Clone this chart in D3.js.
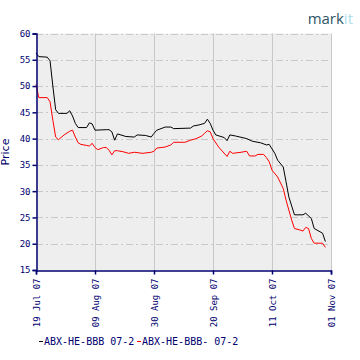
<!DOCTYPE html>
<html><head><meta charset="utf-8">
<script src="https://cdn.jsdelivr.net/npm/d3@7"></script>
<style>body{margin:0;background:#fff}svg{display:block}</style>
</head><body>
<script>
const seriesNames = ["ABX-HE-BBB 07-2", "ABX-HE-BBB- 07-2"];
const seriesColors = ["#000000", "#ff0000"];
const blackDates = ["2007-07-19","2007-07-20","2007-07-23","2007-07-24","2007-07-25","2007-07-26","2007-07-27","2007-07-30","2007-07-31","2007-08-01","2007-08-02","2007-08-03","2007-08-06","2007-08-07","2007-08-08","2007-08-09","2007-08-13","2007-08-14","2007-08-15","2007-08-16","2007-08-17","2007-08-20","2007-08-23","2007-08-24","2007-08-27","2007-08-29","2007-08-30","2007-08-31","2007-09-03","2007-09-05","2007-09-06","2007-09-12","2007-09-13","2007-09-15","2007-09-17","2007-09-18","2007-09-19","2007-09-20","2007-09-21","2007-09-24","2007-09-25","2007-09-26","2007-09-28","2007-10-02","2007-10-04","2007-10-07","2007-10-09","2007-10-10","2007-10-12","2007-10-13","2007-10-15","2007-10-16","2007-10-17","2007-10-19","2007-10-22","2007-10-23","2007-10-25","2007-10-26","2007-10-29","2007-10-30"];
const blackValues = [56.3,55.6,55.5,54.8,50.0,45.5,44.8,44.8,45.3,44.3,42.9,42.1,42.1,43.0,42.8,41.6,41.7,41.7,41.3,39.7,40.9,40.4,40.3,40.7,40.6,40.3,41.0,41.6,42.2,42.2,41.9,42.0,42.4,42.6,42.9,43.7,42.9,41.6,40.7,40.2,39.6,40.7,40.5,40.0,39.5,39.2,38.8,38.9,37.2,35.9,34.6,31.8,28.9,25.5,25.5,25.8,24.8,22.9,22.0,20.4];
const redDates = ["2007-07-19","2007-07-20","2007-07-23","2007-07-24","2007-07-25","2007-07-26","2007-07-27","2007-07-29","2007-07-31","2007-08-01","2007-08-02","2007-08-03","2007-08-04","2007-08-06","2007-08-07","2007-08-08","2007-08-09","2007-08-10","2007-08-12","2007-08-13","2007-08-14","2007-08-15","2007-08-16","2007-08-17","2007-08-19","2007-08-21","2007-08-23","2007-08-26","2007-08-29","2007-08-30","2007-08-31","2007-09-03","2007-09-05","2007-09-06","2007-09-10","2007-09-12","2007-09-14","2007-09-16","2007-09-17","2007-09-18","2007-09-19","2007-09-20","2007-09-22","2007-09-25","2007-09-26","2007-09-27","2007-09-30","2007-10-02","2007-10-03","2007-10-05","2007-10-06","2007-10-08","2007-10-09","2007-10-10","2007-10-11","2007-10-13","2007-10-15","2007-10-16","2007-10-18","2007-10-19","2007-10-21","2007-10-22","2007-10-23","2007-10-24","2007-10-25","2007-10-26","2007-10-29","2007-10-30"];
const redValues = [50.3,47.8,47.8,47.0,43.5,40.3,39.8,40.7,41.4,41.6,40.3,39.2,38.9,38.7,38.6,39.1,38.3,37.9,38.3,38.3,37.8,36.9,37.7,37.7,37.5,37.2,37.4,37.2,37.4,37.6,38.2,38.4,38.8,39.3,39.3,39.7,40.0,40.5,41.0,41.5,41.3,40.0,38.4,36.6,37.6,37.2,37.4,37.6,36.7,36.7,37.0,37.0,36.4,35.6,34.0,32.7,30.5,28.3,24.5,22.9,22.6,22.4,23.1,22.9,21.0,20.1,20.1,19.3];
const yTicks = [15,20,25,30,35,40,45,50,55,60];
const xTickDates = ["2007-07-19","2007-08-09","2007-08-30","2007-09-20","2007-10-11","2007-11-01"];
const xTickLabels = ["19 Jul 07","09 Aug 07","30 Aug 07","20 Sep 07","11 Oct 07","01 Nov 07"];
const yLabel = "Price";

const W = 360, H = 360;
const navy = "#000070";
const parse = d3.utcParse("%Y-%m-%d");
const m = {l: 36, r: 331, t: 33.5, b: 270};
const x = d3.scaleUtc().domain([parse(xTickDates[0]), parse(xTickDates[xTickDates.length-1])]).range([m.l, m.r]);
const y = d3.scaleLinear().domain([15, 60]).range([m.b, m.t]);

const svg = d3.select("body").append("svg").attr("width", W).attr("height", H);
svg.append("rect").attr("x", m.l).attr("y", m.t).attr("width", m.r - m.l).attr("height", m.b - m.t).attr("fill", "#eeeeee");

// grid
svg.append("g").selectAll("line").data(yTicks.slice(1)).join("line")
  .attr("x1", m.l).attr("x2", m.r).attr("y1", d => Math.round(y(d)) + 0.5).attr("y2", d => Math.round(y(d)) + 0.5)
  .attr("stroke", "#c8c8c8").attr("stroke-dasharray", "7,3,2,3");
svg.append("g").selectAll("line").data(xTickDates.slice(1)).join("line")
  .attr("x1", d => Math.round(x(parse(d))) + 0.5).attr("x2", d => Math.round(x(parse(d))) + 0.5)
  .attr("y1", m.t).attr("y2", m.b).attr("stroke", "#c8c8c8");

// lines
const line = d3.line().x(d => x(d[0])).y(d => y(d[1]));
const sets = [[blackDates, blackValues], [redDates, redValues]];
sets.forEach((s, i) => {
  const pts = s[0].map((d, j) => [parse(d), s[1][j]]);
  svg.append("path").datum(pts).attr("d", line).attr("fill", "none")
    .attr("stroke", seriesColors[i]).attr("stroke-width", 1);
});

// axes
const yAxis = d3.axisLeft(y).tickValues(yTicks).tickSize(4).tickFormat(d3.format("d"));
const gy = svg.append("g").attr("transform", `translate(${m.l + 0.5},0)`).call(yAxis);
const xAxis = d3.axisBottom(x).tickValues(xTickDates.map(parse)).tickSize(4).tickFormat((d, i) => xTickLabels[i]);
const gx = svg.append("g").attr("transform", `translate(0,${m.b + 0.5})`).call(xAxis);
[gy, gx].forEach(g => {
  g.select(".domain").attr("stroke", navy).attr("stroke-width", 1.5);
  g.selectAll(".tick line").attr("stroke", navy).attr("stroke-width", 1.5);
  g.selectAll("text").attr("fill", navy).attr("font-family", "DejaVu Sans Mono").attr("font-size", 9);
});
gy.selectAll("text").attr("x", -6);
gx.selectAll("text").attr("transform", "rotate(-90)").attr("text-anchor", "end")
  .attr("x", -8).attr("y", 0).attr("dy", "0.35em");

svg.append("text").attr("transform", `translate(9,152) rotate(-90)`).attr("text-anchor", "middle")
  .attr("fill", navy).attr("font-family", "DejaVu Sans").attr("font-size", 11).text(yLabel);

// legend
const lg = svg.append("g").attr("font-family", "DejaVu Sans Mono").attr("font-size", 10).attr("fill", navy);
const lx = [39, 137];
seriesNames.forEach((n, i) => {
  lg.append("line").attr("x1", lx[i]).attr("x2", lx[i] + 4).attr("y1", 341.5).attr("y2", 341.5).attr("stroke", seriesColors[i]);
  lg.append("text").attr("x", lx[i] + 5).attr("y", 345).text(n);
});

// logo
const logo = svg.append("text").attr("x", 353).attr("y", 24).attr("text-anchor", "end")
  .attr("font-family", "Open Sans").attr("font-size", 15);
logo.append("tspan").attr("fill", "#2f5566").text("mark");
logo.append("tspan").attr("fill", "#aee0ea").text("it");
</script>
</body></html>
